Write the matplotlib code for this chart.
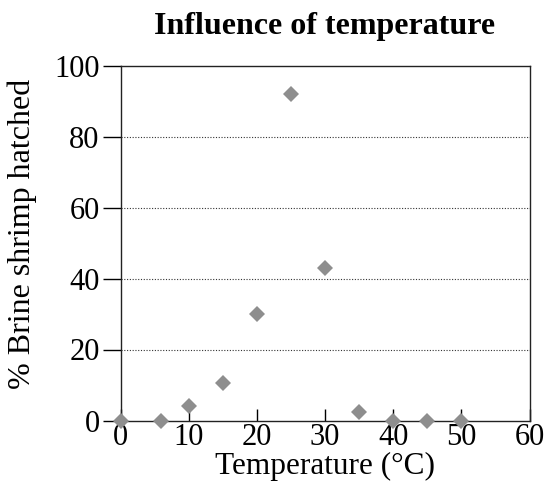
import numpy as np
import matplotlib.pyplot as plt

temps = [0, 6, 10, 15, 20, 25, 30, 35, 40, 45, 50]
hatched = [0, 0, 4, 10.5, 30, 92, 43, 2.5, 0, 0, 0]
x_ticks = [0, 10, 20, 30, 40, 50, 60]
y_ticks = [0, 20, 40, 60, 80, 100]

plt.rcParams['font.family'] = ['Liberation Serif', 'DejaVu Serif']

fig = plt.figure(figsize=(5.45, 4.95), dpi=100)
ax = fig.add_axes([120.5/545, 1-420.5/495, (529.5-120.5)/545, (420.5-65.5)/495])

for yv in y_ticks[1:-1]:
    ax.axhline(yv, color='#333333', lw=0.8, ls=(0, (1, 1.5)), zorder=1)

ax.plot(temps, hatched, ls='none', marker='D', ms=8, color='#8e8e8e',
        markeredgewidth=0, clip_on=False, zorder=3)

ax.set_xlim(0, 60)
ax.set_ylim(0, 100)
ax.set_xticks(x_ticks)
ax.set_yticks(y_ticks)
ax.tick_params(axis='x', direction='in', length=9, width=1, labelsize=22, pad=2)
ax.tick_params(axis='y', direction='out', length=13, width=1, labelsize=22, pad=2)
for s in ax.spines.values():
    s.set_linewidth(1)
    s.set_color('#222222')

ax.set_xlabel('Temperature (°C)', fontsize=22.5, labelpad=0)
ax.set_ylabel('% Brine shrimp hatched', fontsize=23)
ax.yaxis.set_label_coords(-0.205, 0.525)
ax.set_title('Influence of temperature', fontsize=23, fontweight='bold', pad=23)

fig.savefig('out.png', dpi=100)
